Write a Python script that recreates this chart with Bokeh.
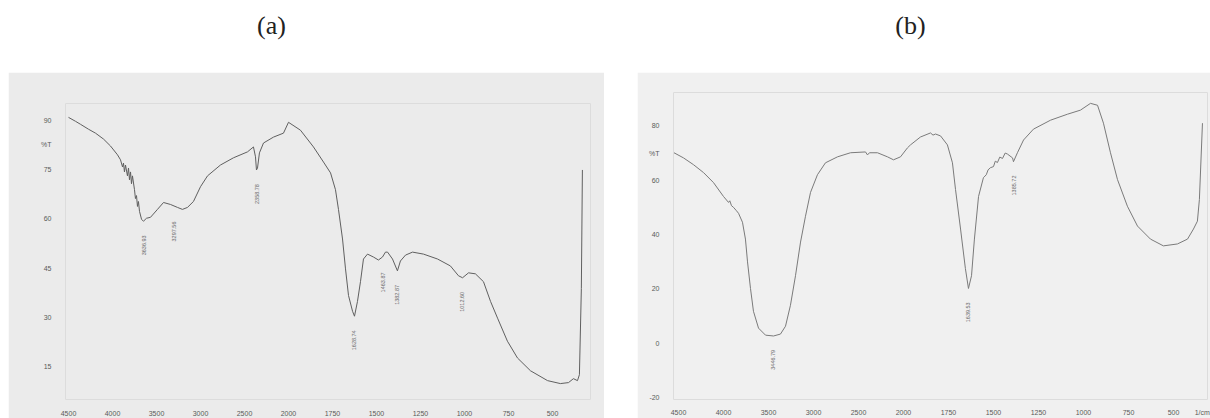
import math
from bokeh.plotting import figure
from bokeh.layouts import column, row
from bokeh.models import FixedTicker, Spacer, Label, ColumnDataSource
from bokeh.core.properties import value
from bokeh.embed import file_html
from bokeh.resources import INLINE

# ---------------- data ----------------
tick_wn = [4500, 4000, 3500, 3000, 2500, 2000, 1750, 1500, 1250, 1000, 750, 500]
a_T_ticks = [15, 30, 45, 60, 75, 90]
b_T_ticks = [-20, 0, 20, 40, 60, 80]

a_wn = [4500, 4420, 4364, 4273, 4193, 4102, 4023, 3943, 3909, 3886, 3875, 3864,
        3852, 3830, 3818, 3807, 3795, 3784, 3773, 3750, 3739, 3727, 3716, 3705,
        3693, 3670, 3648, 3614, 3568, 3489, 3420, 3341, 3261, 3205, 3148, 3080,
        3000, 2920, 2773, 2625, 2466, 2398, 2375, 2364, 2352, 2330, 2284, 2170,
        2057, 2000, 1932, 1858, 1801, 1761, 1733, 1716, 1693, 1676, 1659, 1636,
        1625, 1608, 1591, 1574, 1551, 1517, 1489, 1466, 1449, 1437, 1409, 1381,
        1364, 1335, 1295, 1233, 1153, 1080, 1034, 1011, 977, 938, 892, 852,
        812, 756, 699, 625, 528, 455, 409, 381, 358, 347, 336, 330]
a_T = [90.9, 89.7, 88.8, 87.3, 86.1, 84.3, 82.2, 79.5, 78.0, 75.8, 77.0, 74.3,
       76.4, 73.1, 75.5, 71.9, 74.3, 70.7, 73.1, 68.9, 66.2, 67.1, 63.8, 65.3,
       62.3, 59.9, 59.3, 60.2, 60.5, 62.9, 65.0, 64.4, 63.5, 62.9, 63.5, 65.3,
       69.8, 73.1, 76.4, 78.6, 80.4, 81.9, 78.9, 74.9, 75.5, 80.1, 83.1, 84.9,
       86.1, 89.4, 87.0, 81.9, 77.3, 74.0, 68.9, 62.9, 53.9, 44.8, 36.7, 31.9,
       30.4, 34.9, 40.9, 47.8, 49.3, 48.4, 47.5, 48.4, 49.9, 49.9, 47.8, 44.2,
       47.2, 49.0, 49.9, 49.3, 47.8, 45.7, 42.7, 42.1, 43.6, 43.3, 40.9, 34.9,
       29.8, 22.8, 17.7, 13.8, 10.8, 9.9, 10.2, 11.4, 10.8, 12.6, 38.8, 74.9]

b_wn = [4550, 4444, 4333, 4222, 4111, 4000, 3944, 3930, 3911, 3889, 3860, 3833,
        3789, 3756, 3733, 3700, 3667, 3611, 3533, 3444, 3367, 3311, 3256, 3200,
        3144, 3089, 3033, 2956, 2867, 2733, 2589, 2422, 2400, 2378, 2289, 2178,
        2111, 2033, 1978, 1961, 1906, 1850, 1836, 1822, 1794, 1756, 1728, 1711,
        1683, 1656, 1639, 1622, 1606, 1583, 1556, 1540, 1530, 1517, 1500, 1490,
        1478, 1465, 1450, 1435, 1422, 1394, 1389, 1367, 1333, 1278, 1183, 1089,
        1017, 961, 922, 889, 850, 811, 756, 700, 628, 556, 478, 422, 389, 367,
        356, 339]
b_T = [70.1, 68.2, 65.7, 62.8, 59.1, 54.0, 51.8, 52.4, 50.6, 50.0, 48.9, 47.8,
       44.5, 38.3, 29.9, 20.1, 11.7, 5.5, 2.9, 2.6, 3.3, 6.2, 13.9, 24.8,
       37.2, 46.7, 55.5, 62.0, 66.4, 68.6, 70.1, 70.4, 69.3, 70.1, 70.1, 68.6,
       67.5, 68.6, 71.9, 73.0, 75.9, 77.4, 76.6, 77.0, 76.3, 73.0, 66.4, 56.6,
       42.0, 27.4, 20.1, 24.8, 38.3, 54.0, 60.9, 62.0, 63.8, 64.6, 65.0, 67.0,
       66.5, 68.5, 68.0, 70.0, 69.6, 68.2, 66.8, 70.1, 74.8, 78.8, 82.1, 84.3,
       85.8, 88.3, 87.6, 81.0, 70.1, 60.2, 50.4, 43.1, 38.3, 35.8, 36.5, 38.3,
       42.0, 44.9, 52.9, 81.0]

a_peak_labels = ["3636.93", "3297.56", "2358.78", "1628.74", "1463.87", "1382.87", "1012.60"]
a_peak_wn = [3636.93, 3297.56, 2358.78, 1628.74, 1463.87, 1382.87, 1012.60]
a_peak_T = [59.3, 63.5, 74.9, 30.4, 48.0, 44.2, 42.1]

b_peak_labels = ["3446.79", "1639.53", "1385.72"]
b_peak_wn = [3446.79, 1639.53, 1385.72]
b_peak_T = [2.6, 20.1, 66.8]

unit_label = "1/cm"


def wn_to_pos(w):
    # instrument chart: 500 cm-1 per division above 2000, 250 cm-1 per division below
    if w >= 2000:
        return (4500.0 - w) / 500.0
    return 5.0 + (2000.0 - w) / 250.0


def make_panel(wn, T, yticks, pct_tick, xr, yr, width, borders, bg, line_color,
               plabels, pwn, pT, label_drop, ystand, xstand, unit_pos=None):
    p = figure(width=width, height=346, x_range=xr, y_range=yr, title=None,
               toolbar_location=None, output_backend="svg",
               min_border_left=borders[0], min_border_right=borders[1],
               min_border_top=borders[2], min_border_bottom=borders[3])
    p.background_fill_color = bg
    p.border_fill_color = bg
    p.outline_line_color = "#dcdcdc"
    p.grid.visible = False

    xt = [wn_to_pos(w) for w in tick_wn]
    xov = {int(round(x)): str(w) for x, w in zip(xt, tick_wn)}
    if unit_pos is not None:
        xt = xt + [unit_pos]
        xov[unit_pos] = unit_label
    p.xaxis.ticker = FixedTicker(ticks=xt)
    p.xaxis.major_label_overrides = xov
    yt = list(yticks) + [pct_tick]
    p.yaxis.ticker = FixedTicker(ticks=sorted(yt))
    ov = {t: str(t) for t in yticks}
    ov[pct_tick] = "%T"
    p.yaxis.major_label_overrides = ov
    for ax in (p.xaxis, p.yaxis):
        ax.axis_line_color = None
        ax.major_tick_line_color = None
        ax.minor_tick_line_color = None
        ax.major_label_text_font = "Liberation Sans"
        ax.major_label_text_font_size = "7px"
        ax.major_label_text_color = "#5a5a5a"
    p.yaxis.major_label_standoff = ystand
    p.xaxis.major_label_standoff = xstand

    src = ColumnDataSource(dict(x=[wn_to_pos(w) for w in wn], y=T))
    p.line("x", "y", source=src, line_color=line_color, line_width=1.0)

    lsrc = ColumnDataSource(dict(x=[wn_to_pos(w) for w in pwn],
                                 y=[t - label_drop for t in pT],
                                 t=plabels))
    p.text("x", "y", text="t", source=lsrc, angle=math.pi / 2,
           text_align="right", text_baseline="middle",
           text_font=value("Liberation Sans"), text_font_size="5.5px",
           text_color="#6a6a6a")
    return p


pa = make_panel(a_wn, a_T, a_T_ticks, 82.5, (-0.068, 11.864), (5.06, 95.12), 596,
                (57, 14, 31, 16), "#ebebeb", "#5f5f5f",
                a_peak_labels, a_peak_wn, a_peak_T, 4.3, 8, 5)
pb = make_panel(b_wn, b_T, b_T_ticks, 70, (-0.111, 11.756), (-20.8, 92.3), 573,
                (36, 3, 20, 16), "#f0f0f0", "#7a7a7a",
                b_peak_labels, b_peak_wn, b_peak_T, 5.1, 8, 3, unit_pos=11.64)

# titles
pt = figure(width=1210, height=72, x_range=(0, 1210), y_range=(0, 72), title=None,
            toolbar_location=None, output_backend="svg", min_border=0,
            x_axis_location=None, y_axis_location=None)
pt.grid.visible = False
pt.outline_line_color = None
pt.background_fill_color = "white"
pt.border_fill_color = "white"
for txt, xx in (("(a)", 271), ("(b)", 910)):
    pt.add_layout(Label(x=xx, y=47, text=txt, text_align="center",
                        text_baseline="middle", text_font="Liberation Serif",
                        text_font_size="26px", text_color="#222222"))

layout = column(pt, row(Spacer(width=8, height=346), column(pa),
                        Spacer(width=33, height=346), column(pb)))

open("out.html", "w").write(file_html(layout, INLINE))
